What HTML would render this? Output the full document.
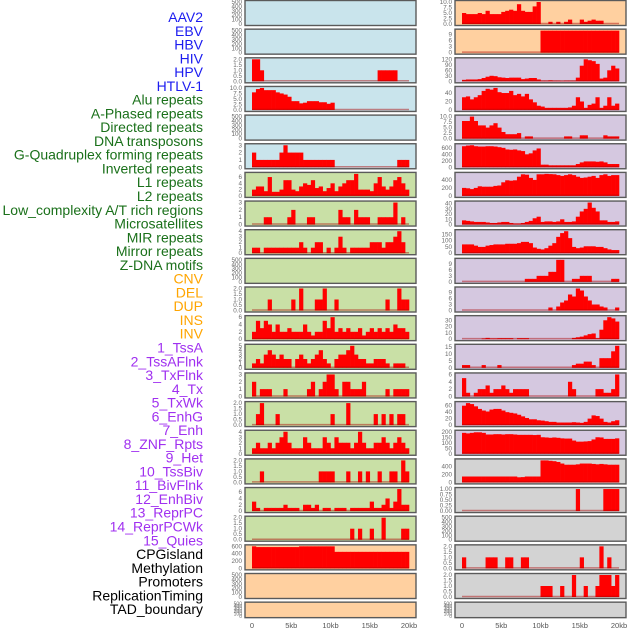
<!DOCTYPE html>
<html><head><meta charset="utf-8"><style>
html,body{margin:0;padding:0;background:#fff;}
svg{display:block;font-family:"Liberation Sans",sans-serif;}
</style></head><body>
<svg id="chart" width="630" height="630" viewBox="0 0 630 630" xmlns="http://www.w3.org/2000/svg"></svg>
<script>
const trackLabels = ["AAV2","EBV","HBV","HIV","HPV","HTLV-1","Alu repeats","A-Phased repeats","Directed repeats","DNA transposons","G-Quadruplex forming repeats","Inverted repeats","L1 repeats","L2 repeats","Low_complexity A/T rich regions","Microsatellites","MIR repeats","Mirror repeats","Z-DNA motifs","CNV","DEL","DUP","INS","INV","1_TssA","2_TssAFlnk","3_TxFlnk","4_Tx","5_TxWk","6_EnhG","7_Enh","8_ZNF_Rpts","9_Het","10_TssBiv","11_BivFlnk","12_EnhBiv","13_ReprPC","14_ReprPCWk","15_Quies","CPGisland","Methylation","Promoters","ReplicationTiming","TAD_boundary"];
const labelGroups = ["v","v","v","v","v","v","r","r","r","r","r","r","r","r","r","r","r","r","r","s","s","s","s","s","c","c","c","c","c","c","c","c","c","c","c","c","c","c","c","k","k","k","k","k"];
const xTickLabels = ["0","5kb","10kb","15kb","20kb"];
const xTickValues = [0,5,10,15,20];
const E = [0,100,200,300,400,500];
const leftTicks = [E,E,[0,0.5,1,1.5,2],[0,2.5,5,7.5,10],E,[0,1,2,3],[0,2,4,6],[0,1,2,3],[0,1,2,3,4],E,[0,0.5,1,1.5,2],[0,2,4,6],[0,1,2,3,4,5],[0,1,2,3],[0,0.5,1,1.5,2],[0,1,2,3,4],[0,0.5,1,1.5,2],[0,2,4,6],[0,0.5,1,1.5,2],[0,200,400,600],E,E];
const rightTicks = [[0,2.5,5,7.5,10],[0,3,6,9],[0,30,60,90,120],[0,20,40],[0,2.5,5,7.5,10],[0,200,400,600],[0,200,400],[0,10,20,30,40],[0,50,100,150],[0,3,6,9],[0,3,6,9],[0,10,20,30],[0,5,10,15],[0,2,4,6],[0,20,40,60],[0,50,100,150,200],[0,200,400],[0,0.25,0.5,0.75,1],E,[0,0.5,1,1.5,2],[0,0.5,1,1.5,2],E];
function S(o){const a=new Array(40).fill(0);for(const k in o)a[+k]=o[k];return a;}
const leftValues = [
 [],
 [],
 S({0:2,1:2,2:1,32:1,33:1,34:1,35:1,36:1}),
 S({0:8,1:9.5,2:10,3:9,4:9,5:9,6:8,7:7.5,8:7,9:6,10:4,11:4,12:3,13:3.3,14:4,15:4,16:4,17:3.5,18:3.5,19:2.8,20:3.3}),
 [],
 S({0:2,1:1,2:1,3:1,4:1,5:1,6:1,7:2,8:3,9:2,10:2,11:2,12:2,13:1,14:1,15:1,16:1,17:1,18:1,19:1,20:1,37:1,38:1,39:1}),
 [2,3,3,1.5,6,1.3,1.3,2,5,5,2,1.5,3,4,3.5,5,2.5,3,1.5,2.5,4,1.5,3,4,5,5,7,2,2,2,1.5,4,6,3,2,3,5,6,4,2],
 S({3:1,4:1,9:1,10:2,14:1,15:1,22:2,23:1,24:1,26:2,27:1,28:1,29:1,32:1,33:1,34:1,35:1,36:3,38:1}),
 S({0:1,1:1,3:1,4:1,5:1,6:1,7:1,8:1,9:1,10:1,11:1,12:2,13:1,15:1,16:2,17:2,19:1,21:1,22:3,23:1,25:1,26:1,27:1,28:1,29:1,30:2,31:2,32:2,33:1,34:2,35:2,36:3,37:4,38:2}),
 [],
 S({4:1,10:1,12:2,16:1,17:1,18:2,21:1,34:1,37:2,38:1,39:1}),
 [2,5,3,5,4,2,4,2,2,3,2,2,2,4,2,1,2,2,5,3,6,2,3,2,3,2,2,3,1,2,3,2,3,2,3,2,4,3,3,2],
 [1,2,1,3,4,3,2,3,2,2,0,2,3,2,1,2,3,4,2,1,0,2,3,3,4,5,3,2,2,1,1,2,2,2,1,0,1,1,1,0],
 S({0:2,2:1,3:1,4:1,8:1,14:1,15:2,17:1,18:2,19:3,20:3,21:1,23:2,24:2,25:1,26:1,27:1,28:2,34:1,36:1,37:1,38:1,39:1}),
 S({1:1,2:2,6:1,20:1,24:2,31:1,33:1,35:1,37:1,38:1}),
 [1,2,1,1,2,1,2,3,4,2,1,1,1,3,2,1,1,1,3,2,1,3,2,2,2,1,2,4,2,1,1,2,2,3,2,1,2,3,2,1],
 S({2:1,17:1,18:1,19:1,20:1,24:1,27:1,29:1,32:1,35:1,36:1,38:2,39:1}),
 [3,1,0,1,1,1,1,1,2,1,1,1,0,2,2,1,2,0,1,1,0,1,1,1,0,1,1,1,1,1,3,1,1,2,4,1,3,7,2,2],
 S({25:1,27:1,30:1,33:2,38:1,39:1}),
 [600,580,580,580,580,580,580,580,580,580,580,580,600,600,600,600,600,600,600,600,600,450,450,450,450,450,450,450,450,450,450,450,450,450,450,450,450,450,450,450],
 [],
 []
];
const rightValues = [
 S({0:5,1:4.5,2:4.5,3:4.5,4:5,5:4.5,6:6,7:4.5,8:4.5,9:4.5,10:5.5,11:6,12:6.5,13:6,14:9,15:6,16:5.5,17:5.5,18:8,19:10,22:1,24:1,26:1,27:2,30:2,31:1,32:1.5,33:2,34:1.5,35:1.5}),
 S({20:11,21:11,22:11,23:11,24:11,25:11,26:11,27:11,28:11,29:11,30:11,31:11,32:11,33:11,34:11,35:11,36:11,37:11,38:11,39:11}),
 [8,10,10,10,12,18,25,30,28,22,20,18,20,20,20,12,15,18,18,10,3,3,5,3,3,2,3,3,3,20,85,120,115,110,95,15,20,60,85,70],
 [30,32,25,30,35,45,50,48,52,42,40,40,45,35,38,32,38,25,18,10,8,5,5,5,5,5,5,6,10,30,20,5,12,15,30,5,10,30,10,15],
 S({0:8,1:8,2:10,3:8,4:6,5:6,6:5,7:6,8:7,9:5,10:3,11:2,12:2,13:2,14:2.5,16:1,17:1,26:1,27:1,30:1.5,31:1.5,36:1.5,37:1,38:1,39:1}),
 [650,670,680,650,640,640,650,650,640,620,600,550,540,550,520,500,400,430,520,580,80,80,60,60,60,60,60,60,60,100,150,180,180,180,170,180,150,100,100,100],
 [200,190,170,200,240,230,230,230,250,260,340,390,380,390,480,540,530,450,400,540,540,550,545,540,520,500,520,540,520,480,450,460,480,500,450,520,540,500,520,520],
 [8,7,6,5,5,5,4,3,3,4,5,5,3,2,2,3,5,7,12,15,5,6,6,5,6,10,5,5,6,15,25,30,42,32,25,8,8,5,5,6],
 [70,70,70,60,50,50,60,65,70,70,70,75,75,75,80,90,90,80,45,35,30,40,60,80,130,160,175,120,50,40,45,55,55,55,50,50,40,30,25,25],
 S({16:1.5,17:1.5,18:1.5,19:3,20:3,21:3,22:5,23:5,24:11,25:11,28:1.5,29:1.5,30:3,31:3,32:3,38:1.5,39:1.5}),
 S({22:1.5,24:2,25:4,26:5,27:8,28:7,29:11,30:10,31:7,32:5,33:3,34:3,35:2,36:1.5,39:1.5}),
 S({5:1,6:2,7:1,8:1,9:1.5,10:1.5,11:1.5,12:1.5,14:1.5,15:1.5,16:1.5,28:2,29:3,30:4,31:6,32:8,33:9,34:1.5,35:15,36:30,37:35,38:33,39:28}),
 S({0:2,1:2,5:2,9:2,28:2,29:3,30:3,31:4.5,32:4.5,33:2,35:7,36:7,37:7,38:12,39:16}),
 S({0:5,1:1,3:1,4:2,5:2,6:3,7:1,8:2,9:2,10:3,11:2,12:1,13:2,14:2,15:2,16:2,27:4,28:2,34:2,35:2,36:1,37:1,38:2,39:6}),
 [60,68,65,58,50,45,42,48,50,50,45,40,38,36,32,27,22,18,18,15,14,12,10,10,8,8,8,8,9,8,7,10,20,30,28,20,10,8,12,15],
 [190,185,190,195,195,190,175,175,178,178,175,178,178,175,172,172,172,172,170,172,150,148,145,148,145,140,138,138,120,110,110,112,115,130,150,148,135,135,135,140],
 [150,150,150,150,150,150,150,150,150,150,150,150,150,150,130,135,150,150,150,150,560,560,550,540,520,480,450,450,450,460,480,480,480,470,460,470,460,450,450,450],
 S({29:1,36:1,37:1,38:1,39:1}),
 [],
 S({0:1,6:1,7:1,8:1,11:1,12:1,15:1,16:1,30:1,35:2,37:1}),
 S({20:1,21:1,22:1,25:1,28:2,31:1,34:1,35:2,36:2,37:2,38:1,39:2}),
 []
];
const leftBg = ["b","b","b","b","b","b","g","g","g","g","g","g","g","g","g","g","g","g","g","o","o","o"];
const rightBg = ["o","o","p","p","p","p","p","p","p","p","p","p","p","p","p","p","g2","g2","g2","g2","g2","g2"];

const NS="http://www.w3.org/2000/svg";
const svg=document.getElementById('chart');
const bgColor={b:"#c9e4ec",g:"#c9e0a6",o:"#ffd0a0",p:"#d5c8e0",g2:"#d3d3d3"};
const groupColor={v:"#1c1cf0",r:"#1a701a",s:"#ffa500",c:"#a030f0",k:"#000000"};
function mk(tag,attrs,parent){const e=document.createElementNS(NS,tag);for(const k in attrs)e.setAttribute(k,attrs[k]);(parent||svg).appendChild(e);return e;}

// labels
trackLabels.forEach((t,i)=>{
  const el=mk('text',{x:203,y:22+i*13.77,'text-anchor':'end','font-size':14,fill:groupColor[labelGroups[i]]});
  el.textContent=t;
  
  
});

function panelTop(i){return 0.5+i*28.65;}
function panelH(i){return i===21?15.5:25;}
function drawPanel(col,i,vals,ticks,bg){
  const px=col===0?245:455, pw=171;
  const x0=col===0?252:462, kbScale=157/20;
  const xs=kb=>x0+kb*kbScale;
  const top=panelTop(i), h=panelH(i);
  const g=mk('g',{});
  
  
  const bgr=mk('rect',{x:px,y:top,width:pw,height:h,fill:bgColor[bg]},g);
  
  
  const iTop=top+1.5, iBot=top+h-1.5;
  let vmax=ticks[ticks.length-1];
  vals.forEach(v=>{if(v>vmax)vmax=v;});
  const ys=v=>iBot-(v/vmax)*(iBot-iTop);
  ticks.forEach(t=>{
    const tl=mk('text',{x:px-3,y:ys(t)+2,'text-anchor':'end','font-size':i===21?5:6.3,fill:'#6a6a6a'},g);
    tl.textContent=String(t).indexOf('.')>=0||ticks.some(q=>q%1)?t.toFixed(ticks.some(q=>(q*100)%25===0&&q%0.5)?2:1):t;
    
    
  });
  if(vals.length){
    vals.forEach((v,b)=>{
      if(v<=0)return;
      const r=mk('rect',{x:xs(b*0.5),y:ys(v),width:0.5*kbScale+0.3,height:iBot-ys(v),fill:'#ff0000'},g);
      
      
    });
    const bl=mk('line',{x1:xs(0),x2:xs(20),y1:iBot-0.5,y2:iBot-0.5,stroke:'rgba(170,0,0,0.45)','stroke-width':1.5},g);
    
    
  }
  const br=mk('rect',{x:px,y:top,width:pw,height:h,fill:'none',stroke:'#5a5a5a','stroke-width':1.4},g);
  
  
}
for(let i=0;i<22;i++){
  drawPanel(0,i,leftValues[i],leftTicks[i],leftBg[i]);
  drawPanel(1,i,rightValues[i],rightTicks[i],rightBg[i]);
}
[252,462].forEach((x0,c)=>{
  xTickValues.forEach((v,j)=>{
    const t=mk('text',{x:x0+v*157/20,y:628,'text-anchor':'middle','font-size':7.5,fill:'#555'});
    t.textContent=xTickLabels[j];
    
    
  });
});
</script>
</body></html>
